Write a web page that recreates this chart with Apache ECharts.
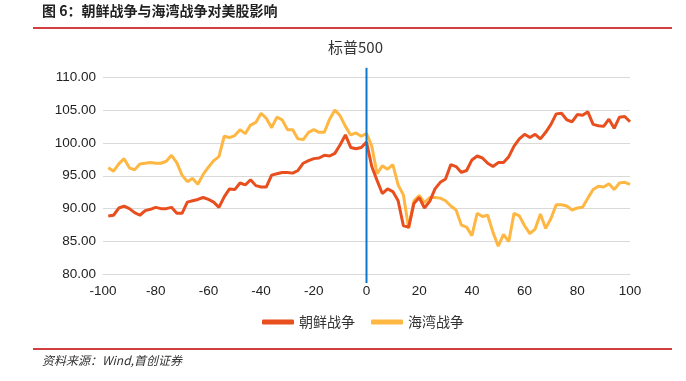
<!DOCTYPE html>
<html>
<head>
<meta charset="utf-8">
<script src="https://cdn.jsdelivr.net/npm/echarts@6/dist/echarts.min.js"></script>
<style>
html,body{margin:0;padding:0;background:#fff;}
#main{width:686px;height:381px;}
</style>
</head>
<body>
<div id="main"></div>
<script>
// 交易日（相对战争爆发日）
var days = [-98,-96,-94,-92,-90,-88,-86,-84,-82,-80,-78,-76,-74,-72,-70,-68,-66,-64,-62,-60,
    -58,-56,-54,-52,-50,-48,-46,-44,-42,-40,-38,-36,-34,-32,-30,-28,-26,-24,-22,-20,
    -18,-16,-14,-12,-10,-8,-6,-4,-2,0,2,4,6,8,10,12,14,16,18,20,
    22,24,26,28,30,32,34,36,38,40,42,44,46,48,50,52,54,56,58,60,
    62,64,66,68,70,72,74,76,78,80,82,84,86,88,90,92,94,96,98,100];

var koreaWar = [88.9,89.0,90.1,90.4,90.0,89.4,89.0,89.7,89.9,90.2,90.0,90.0,90.2,89.3,89.3,91.0,91.2,91.4,91.7,91.4,
    91.0,90.2,91.8,93.0,92.9,93.9,93.6,94.4,93.5,93.3,93.3,95.1,95.3,95.5,95.5,95.4,95.8,96.9,97.3,97.6,
    97.7,98.1,98.0,98.4,99.7,101.2,99.3,99.1,99.3,100.1,96.4,94.3,92.3,93.0,92.6,91.2,87.4,87.2,90.8,91.7,
    90.1,91.1,93.0,94.0,94.5,96.7,96.4,95.5,95.8,97.4,98.0,97.7,96.9,96.4,97.0,97.0,97.9,99.5,100.6,101.3,
    100.8,101.3,100.6,101.6,102.8,104.4,104.5,103.5,103.2,104.3,104.2,104.7,102.8,102.6,102.5,103.6,102.2,103.9,104.0,103.2];

var gulfWar = [96.2,95.7,96.8,97.6,96.2,95.9,96.8,96.9,97.0,96.9,96.9,97.2,98.1,97.0,95.1,94.1,94.6,93.7,95.2,96.3,
    97.3,97.9,101.0,100.8,101.1,102.0,101.4,102.7,103.1,104.5,103.7,102.3,103.9,103.5,102.0,102.0,100.6,100.5,101.6,102.0,
    101.6,101.6,103.6,105.0,104.1,102.5,101.2,101.5,101.0,101.4,99.5,95.3,96.5,96.0,96.7,93.6,92.1,87.0,91.2,92.0,
    90.9,91.7,91.7,91.6,91.2,90.4,89.8,87.5,87.2,85.9,89.3,88.8,89.0,86.4,84.3,86.1,85.0,89.3,88.9,87.4,
    86.2,86.9,89.2,87.0,88.5,90.6,90.6,90.4,89.8,90.1,90.2,91.6,92.9,93.4,93.3,93.8,92.9,93.9,94.0,93.7];

// 战争爆发日标记线
var eventLine = [[0, 78.7], [0, 111.4]];

function pairs(vals) {
    return days.map(function (d, i) { return [d, vals[i]]; });
}

var chart = echarts.init(document.getElementById('main'));
var numFont = '"Liberation Sans Narrow", "Liberation Sans", Arial, sans-serif';
var cjkFont = '"Noto Sans CJK SC", sans-serif';

var option = {
    animation: false,
    backgroundColor: '#fff',
    title: {
        text: '标普500',
        left: 323,
        top: 35,
        textStyle: {fontFamily: cjkFont, fontSize: 15, fontWeight: 'normal', color: '#333'}
    },
    legend: {
        data: ['朝鲜战争', '海湾战争'],
        left: 257,
        top: 310,
        itemWidth: 32,
        itemHeight: 5,
        itemGap: 16,
        icon: 'roundRect',
        textStyle: {fontFamily: cjkFont, fontSize: 14, color: '#333'}
    },
    grid: {left: 103, right: 56, top: 77, bottom: 106.5},
    xAxis: {
        type: 'value',
        min: -100,
        max: 100,
        interval: 20,
        splitLine: {show: false},
        axisLine: {show: true, lineStyle: {color: '#d9d9d9'}},
        axisTick: {show: false},
        axisLabel: {fontFamily: numFont, fontSize: 13.5, color: '#222', margin: 10}
    },
    yAxis: {
        type: 'value',
        min: 80,
        max: 110,
        interval: 5,
        axisLine: {show: false},
        axisTick: {show: false},
        splitLine: {lineStyle: {color: '#d9d9d9'}},
        axisLabel: {
            fontFamily: numFont, fontSize: 13.5, color: '#222', margin: 7,
            formatter: function (v) { return v.toFixed(2); }
        }
    },
    series: [
        {
            name: '朝鲜战争',
            type: 'line',
            data: pairs(koreaWar),
            showSymbol: false,
            lineStyle: {width: 3, color: '#E84E1E'},
            itemStyle: {color: '#E84E1E'},
            z: 3
        },
        {
            name: '海湾战争',
            type: 'line',
            data: pairs(gulfWar),
            showSymbol: false,
            lineStyle: {width: 3, color: '#FFB743'},
            itemStyle: {color: '#FFB743'},
            z: 2
        },
        {
            name: 'event',
            type: 'line',
            data: eventLine,
            showSymbol: false,
            clip: false,
            silent: true,
            lineStyle: {width: 2, color: '#0B77CC'},
            z: 4
        }
    ],
    graphic: [
        {
            type: 'text', left: 42, top: 4,
            style: {text: '图 6：朝鲜战争与海湾战争对美股影响', font: 'bold 14px "Noto Sans CJK SC"', fill: '#222'}
        },
        {
            type: 'line', shape: {x1: 33, y1: 28, x2: 672, y2: 28},
            style: {stroke: '#C00000', lineWidth: 1.5}
        },
        {
            type: 'line', shape: {x1: 33, y1: 349, x2: 672, y2: 349},
            style: {stroke: '#C00000', lineWidth: 1.5}
        },
        {
            type: 'text', left: 42, top: 354,
            style: {text: '资料来源：Wind,首创证券', font: 'italic 12px "Noto Sans CJK SC"', fill: '#333'}
        }
    ]
};

chart.setOption(option);
window.addEventListener('resize', function () {
    chart.resize();
});
</script>
</body>
</html>
